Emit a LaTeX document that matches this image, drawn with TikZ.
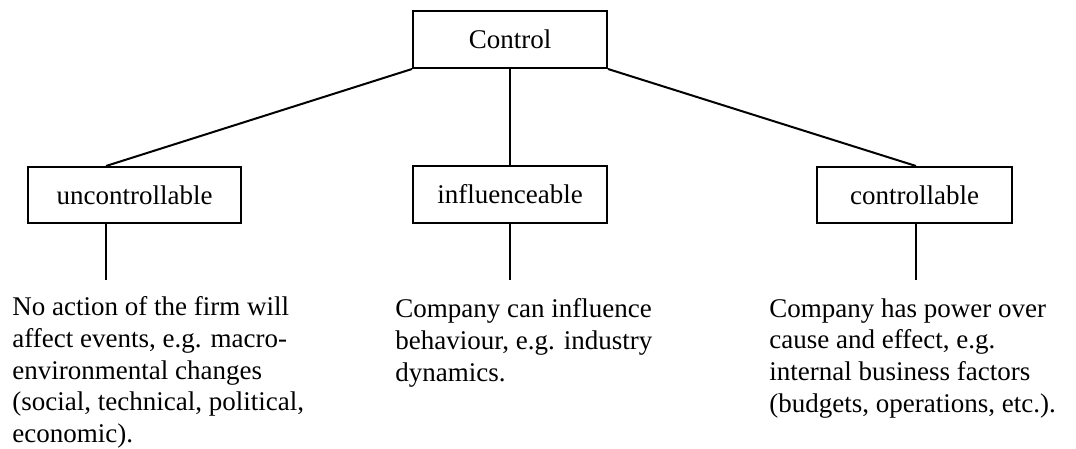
\documentclass[tikz,border=0pt]{standalone}
\usepackage{fontspec}
\setmainfont{Liberation Serif}
\begin{document}
\begin{tikzpicture}[x=0.5pt,y=-0.5pt,
  box/.style={draw, line width=1pt, minimum width=97pt, minimum height=28.5pt,
    inner sep=0pt, font=\fontsize{13.5}{15.9}\selectfont},
  desc/.style={anchor=north west, align=left, inner sep=0pt,
    font=\fontsize{13.5}{15.9}\selectfont},
  link/.style={line width=1pt}]
\useasboundingbox (0,0) rectangle (1076,449);

% top level
\node[box] (ctl) at (510,39.5) {Control};

% three categories
\node[box, minimum width=106.5pt, minimum height=28pt] (unc) at (134.5,195) {uncontrollable};
\node[box, minimum height=28.5pt] (inf) at (510,194.5) {influenceable};
\node[box, minimum width=97.5pt, minimum height=28pt] (con) at (914.5,195) {controllable};

% lower ends of the stems
\coordinate (uend) at (106,280);
\coordinate (iend) at (510,280);
\coordinate (cend) at (916,280);

% branches from the top box
\draw[link] (ctl.south west) -- (unc.north -| uend);
\draw[link] (ctl.south) -- (inf.north);
\draw[link] (ctl.south east) -- (con.north -| cend);

% stems below the categories
\draw[link] (unc.south -| uend) -- (uend);
\draw[link] (inf.south -| iend) -- (iend);
\draw[link] (con.south -| cend) -- (cend);

% descriptions
\node[desc] (utext) at (12,296) {No action of the firm will\\affect events, e.g. macro-\\environmental changes\\(social, technical, political,\\economic).};
\node[desc] (itext) at (395,298) {Company can influence\\behaviour, e.g. industry\\dynamics.};
\node[desc] (ctext) at (769,298) {Company has power over\\cause and effect, e.g.\\internal business factors\\(budgets, operations, etc.).};
\end{tikzpicture}
\end{document}
